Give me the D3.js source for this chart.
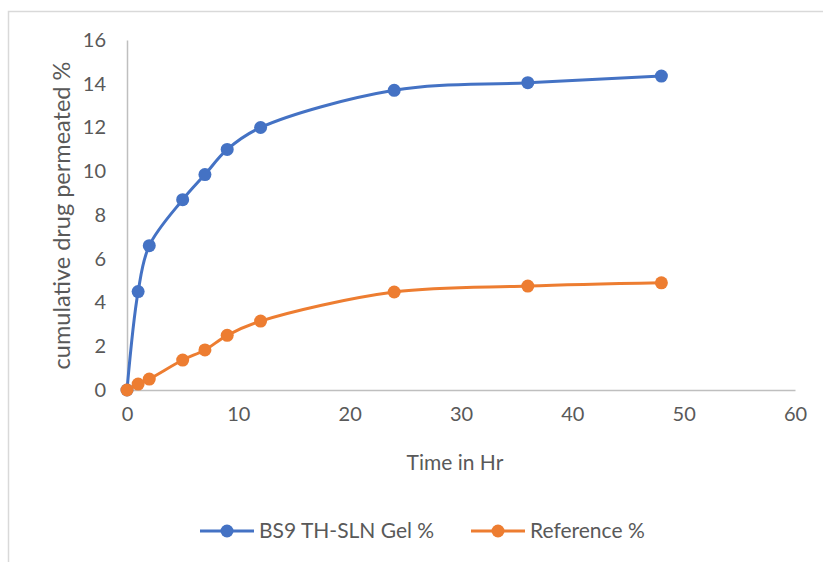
<!DOCTYPE html>
<html>
<head>
<meta charset="utf-8">
<script src="https://cdn.jsdelivr.net/npm/d3@7"></script>
<style>
  body { margin: 0; background: #fff; }
  text { font-family: Lato, "Open Sans", sans-serif; fill: #595959; }
</style>
</head>
<body>
<div id="chart"></div>
<script>
// data
var hours = [0, 1, 2, 5, 7, 9, 12, 24, 36, 48];
var gelValues = [0, 4.5, 6.6, 8.7, 9.85, 11.0, 12.0, 13.7, 14.05, 14.35];
var refValues = [0, 0.27, 0.5, 1.37, 1.83, 2.5, 3.15, 4.48, 4.75, 4.9];
var seriesNames = ["BS9 TH-SLN Gel %", "Reference %"];
var seriesColors = ["#4472C4", "#ED7D31"];
var xTicks = [0, 10, 20, 30, 40, 50, 60];
var yTicks = [0, 2, 4, 6, 8, 10, 12, 14, 16];

var svgWidth = 823;
var svgHeight = 562;
var margin = { top: 40, right: 28, bottom: 172, left: 127 };
var width = svgWidth - margin.left - margin.right;
var height = svgHeight - margin.top - margin.bottom;

var svg = d3.select("#chart")
    .append("svg")
    .attr("width", svgWidth)
    .attr("height", svgHeight);

// outer chart frame
svg.append("rect")
    .attr("x", 8.5)
    .attr("y", 11.5)
    .attr("width", 830)
    .attr("height", 600)
    .attr("fill", "none")
    .attr("stroke", "#d9d9d9")
    .attr("stroke-width", 1.5);

var chartGroup = svg.append("g")
    .attr("transform", `translate(${margin.left}, ${margin.top})`);

var xScale = d3.scaleLinear().domain([0, 60]).range([0, width]);
var yScale = d3.scaleLinear().domain([0, 16]).range([height, 0]);

// axes
var bottomAxis = d3.axisBottom(xScale).tickValues(xTicks).tickSize(0).tickPadding(24);
var leftAxis = d3.axisLeft(yScale).tickValues(yTicks).tickSize(0).tickPadding(21);

var xAxisG = chartGroup.append("g")
    .attr("transform", `translate(0, ${height})`)
    .call(bottomAxis);
var yAxisG = chartGroup.append("g").call(leftAxis);

[xAxisG, yAxisG].forEach(g => {
    g.select(".domain").attr("stroke", "#bfbfbf").attr("stroke-width", 1.5);
    g.selectAll("text").style("font-size", "20px").attr("fill", "#595959");
});
xAxisG.selectAll("text").attr("dy", "0.35em");

// lines + markers
var series = [gelValues, refValues];
var line = d3.line()
    .x((d, i) => xScale(hours[i]))
    .y(d => yScale(d))
    .curve(d3.curveCatmullRom.alpha(0.5));

series.forEach((vals, s) => {
    chartGroup.append("path")
        .datum(vals)
        .attr("d", line)
        .attr("fill", "none")
        .attr("stroke", seriesColors[s])
        .attr("stroke-width", 3);

    chartGroup.selectAll(null)
        .data(vals)
        .enter()
        .append("circle")
        .attr("cx", (d, i) => xScale(hours[i]))
        .attr("cy", d => yScale(d))
        .attr("r", 6.5)
        .attr("fill", seriesColors[s]);
});

// axis titles
chartGroup.append("text")
    .attr("transform", "rotate(-90)")
    .attr("x", -(height / 2) - 0.5)
    .attr("y", -57)
    .attr("text-anchor", "middle")
    .style("font-size", "23.5px")
    .text("cumulative drug permeated %");

chartGroup.append("text")
    .attr("x", width / 2 - 6)
    .attr("y", height + 80)
    .attr("text-anchor", "middle")
    .style("font-size", "21px")
    .text("Time in Hr");

// legend
var legendX = [200, 471];
var legend = svg.append("g");
seriesNames.forEach((name, s) => {
    var g = legend.append("g").attr("transform", `translate(${legendX[s]}, 531)`);
    g.append("line")
        .attr("x1", 0).attr("x2", 54)
        .attr("stroke", seriesColors[s]).attr("stroke-width", 3);
    g.append("circle").attr("cx", 27).attr("r", 6.5).attr("fill", seriesColors[s]);
    g.append("text")
        .attr("x", 59)
        .attr("dy", "0.35em")
        .style("font-size", "21px")
        .text(name);
});
</script>
</body>
</html>
